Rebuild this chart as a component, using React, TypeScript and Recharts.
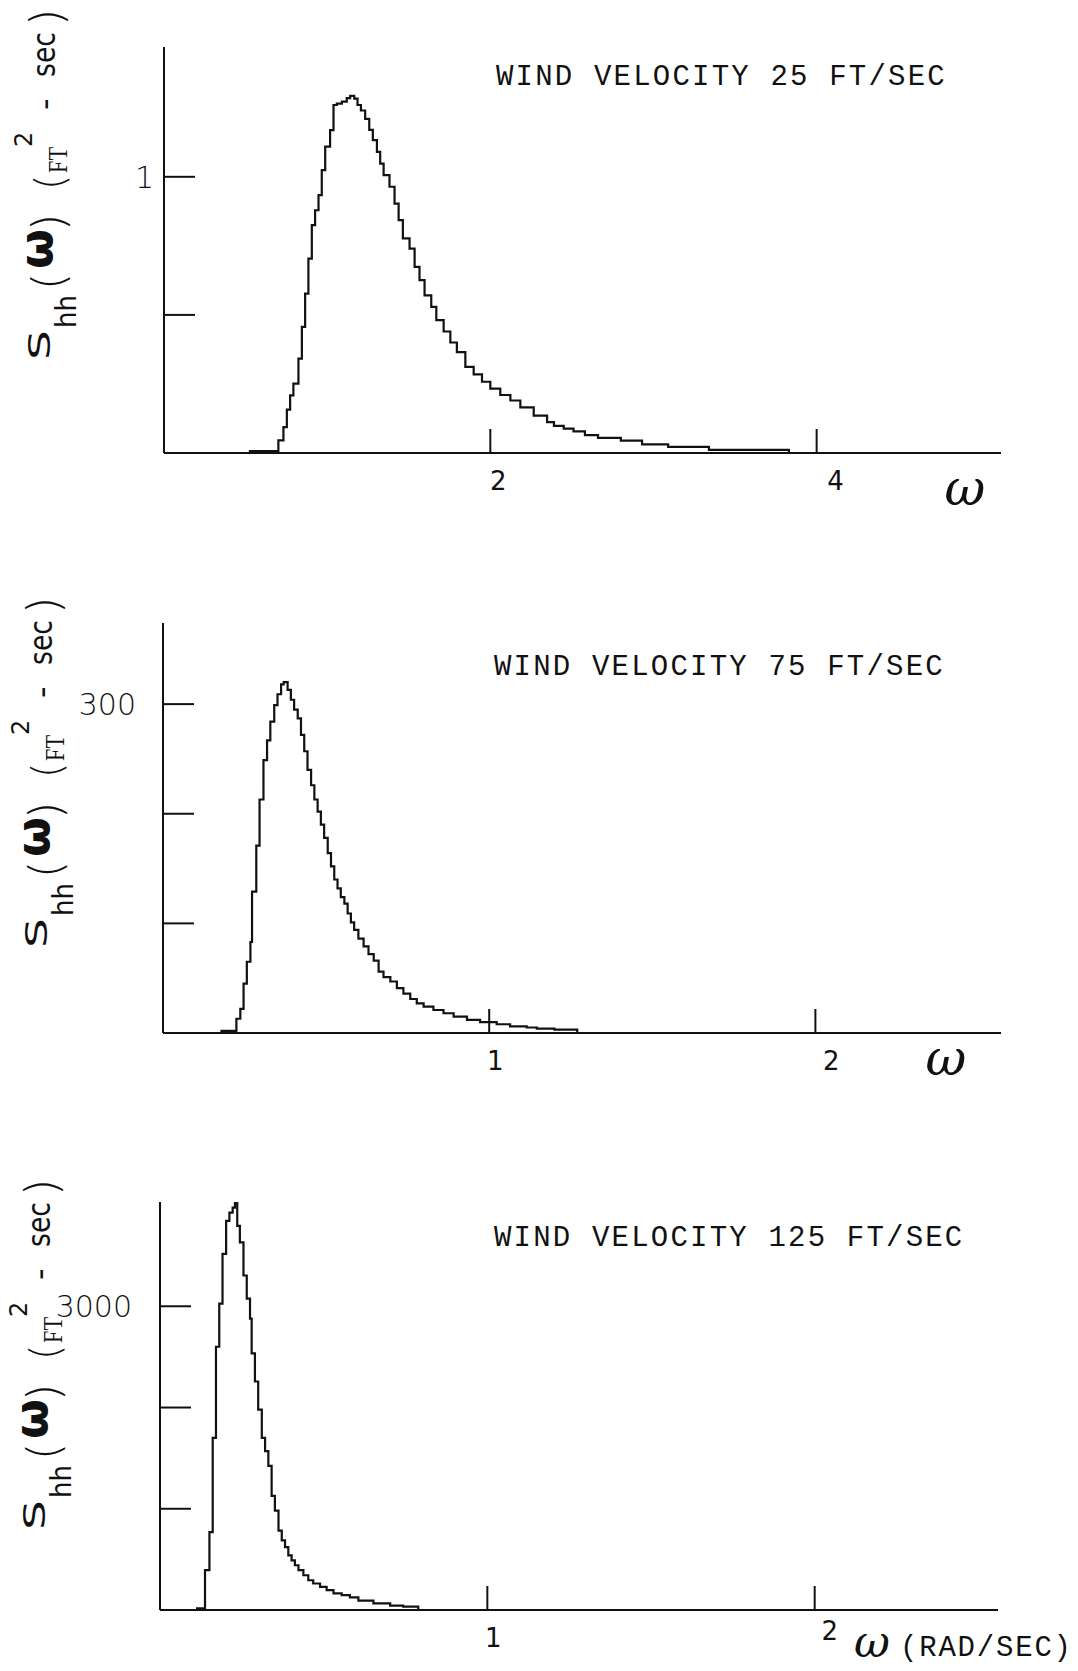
import React from "react";
import { LineChart, Line, XAxis, YAxis } from "recharts";

// step left edges (omega, rad/sec) and Shh values
const omega25 = [
  0.52, 0.701, 0.732, 0.753, 0.773, 0.793, 0.824, 0.845, 0.865, 0.885, 0.906,
  0.926, 0.947, 0.967, 0.988, 1.018, 1.039, 1.059, 1.09, 1.12, 1.141, 1.166,
  1.186, 1.207, 1.233, 1.258, 1.28, 1.305, 1.325, 1.346, 1.382, 1.413, 1.438,
  1.464, 1.505, 1.536, 1.566, 1.597, 1.638, 1.669, 1.714, 1.755, 1.795, 1.847,
  1.898, 1.949, 2.0, 2.061, 2.123, 2.184, 2.266, 2.348, 2.39, 2.45, 2.51, 2.58,
  2.66, 2.8, 2.93, 3.09, 3.34, 3.83,
];
const shh25 = [
  0.007, 0.046, 0.094, 0.157, 0.209, 0.251, 0.342, 0.457, 0.577, 0.704, 0.825,
  0.879, 0.934, 1.024, 1.109, 1.169, 1.26, 1.265, 1.272, 1.285, 1.293, 1.283,
  1.26, 1.24, 1.21, 1.17, 1.133, 1.09, 1.048, 1.006, 0.964, 0.903, 0.843,
  0.777, 0.74, 0.674, 0.626, 0.571, 0.529, 0.481, 0.44, 0.4, 0.365, 0.312,
  0.285, 0.258, 0.233, 0.21, 0.19, 0.165, 0.135, 0.112, 0.098, 0.088, 0.078,
  0.065, 0.055, 0.045, 0.031, 0.022, 0.011, 0,
];

const omega75 = [
  0.176, 0.225, 0.237, 0.247, 0.257, 0.268, 0.273, 0.286, 0.296, 0.308, 0.319,
  0.329, 0.341, 0.351, 0.362, 0.37, 0.382, 0.392, 0.402, 0.413, 0.423, 0.433,
  0.443, 0.454, 0.464, 0.474, 0.484, 0.494, 0.505, 0.515, 0.525, 0.535, 0.545,
  0.556, 0.566, 0.576, 0.586, 0.599, 0.615, 0.63, 0.646, 0.661, 0.676, 0.697,
  0.717, 0.737, 0.758, 0.778, 0.799, 0.829, 0.86, 0.891, 0.932, 0.972, 1.023,
  1.064, 1.115, 1.146, 1.2, 1.27,
];
const shh75 = [
  2, 13, 22, 45, 65, 83, 129, 171, 213, 249, 267, 284, 299, 309, 318, 320, 313,
  304, 295, 287, 272, 257, 240, 226, 213, 202, 190, 178, 164, 152, 140, 132,
  124, 118, 109, 101, 94, 86, 79, 72, 66, 56, 51, 47, 41, 36, 31, 27, 24, 21,
  18, 15, 12, 10, 8, 6, 5, 4, 3, 0,
];

const omega125 = [
  0.11, 0.1375, 0.151, 0.161, 0.171, 0.181, 0.191, 0.202, 0.212, 0.222, 0.229,
  0.236, 0.244, 0.255, 0.265, 0.275, 0.28, 0.29, 0.3, 0.311, 0.321, 0.331,
  0.341, 0.351, 0.362, 0.372, 0.382, 0.392, 0.402, 0.412, 0.423, 0.438, 0.453,
  0.468, 0.489, 0.509, 0.53, 0.555, 0.58, 0.606, 0.652, 0.703, 0.743, 0.789,
];
const shh125 = [
  16, 393, 769, 1701, 2600, 3026, 3517, 3844, 3925, 3975, 4030, 3795, 3631,
  3304, 3075, 2879, 2535, 2257, 1979, 1701, 1570, 1423, 1128, 981, 785, 687,
  622, 540, 491, 442, 393, 343, 294, 262, 229, 196, 164, 147, 124, 92, 65, 43,
  33, 0,
];

const titles = [
  "WIND VELOCITY 25 FT/SEC",
  "WIND VELOCITY 75 FT/SEC",
  "WIND VELOCITY 125 FT/SEC",
];

const xTicks25 = [2, 4];
const xTicks75 = [1, 2];
const xTicks125 = [1, 2];
const yTicks25 = [0.5, 1];
const yTicks75 = [100, 200, 300];
const yTicks125 = [1000, 2000, 3000];
const yLabelled25 = [1];
const yLabelled75 = [300];
const yLabelled125 = [3000];

const INK = "#111";
const PAGE_W = 1078;
const Y_AXIS_W = 60;
const X_AXIS_H = 40;
const MONO = "'Liberation Mono', 'DejaVu Sans Mono', monospace";
const SANS = "'DejaVu Sans', sans-serif";
const SERIF = "'DejaVu Serif', serif";

const rows = (ws: number[], ss: number[]) => ws.map((w, i) => ({ w, s: ss[i] }));

type PanelProps = {
  top: number;
  height: number;
  left: number;
  right: number;
  plotTop: number;
  plotBottom: number;
  xMax: number;
  yMax: number;
  data: { w: number; s: number }[];
  xTicks: number[];
  yTicks: number[];
  yLabelled: number[];
  yLabelGap: number;
  xLabelShift: number[][];
};

function Panel(p: PanelProps) {
  const base = p.plotBottom;
  const margin = {
    top: p.plotTop,
    left: p.left - Y_AXIS_W,
    right: PAGE_W - p.right,
    bottom: p.height - p.plotBottom - X_AXIS_H,
  };

  const xTick = (t: any) => {
    const i = p.xTicks.indexOf(t.payload.value);
    const [dx, dy] = p.xLabelShift[i] || [0, 0];
    return (
      <g>
        <line x1={t.x} x2={t.x} y1={base} y2={base - 24} stroke={INK} strokeWidth={2} />
        <text x={t.x + dx} y={base + 37 + dy} textAnchor="middle" fontFamily={SANS} fontSize={26} fill={INK}>
          {t.payload.value}
        </text>
      </g>
    );
  };

  const yTick = (t: any) => (
    <g>
      <line x1={p.left} x2={p.left + 31} y1={t.y} y2={t.y} stroke={INK} strokeWidth={2} />
      {p.yLabelled.includes(t.payload.value) && (
        <text x={p.left - p.yLabelGap} y={t.y + 11} textAnchor="end" fontFamily={SANS} fontWeight={300} fontSize={30} fill={INK}>
          {t.payload.value}
        </text>
      )}
    </g>
  );

  return (
    <div style={{ position: "absolute", left: 0, top: p.top, width: PAGE_W, height: p.height }}>
      <LineChart width={PAGE_W} height={p.height} data={p.data} margin={margin}>
        <XAxis
          type="number"
          dataKey="w"
          domain={[0, p.xMax]}
          allowDataOverflow
          ticks={p.xTicks}
          interval={0}
          height={X_AXIS_H}
          tickLine={false}
          axisLine={{ stroke: INK, strokeWidth: 2 }}
          tick={xTick}
        />
        <YAxis
          type="number"
          domain={[0, p.yMax]}
          allowDataOverflow
          ticks={p.yTicks}
          interval={0}
          width={Y_AXIS_W}
          tickLine={false}
          axisLine={{ stroke: INK, strokeWidth: 2 }}
          tick={yTick}
        />
        <Line
          type="stepAfter"
          dataKey="s"
          stroke={INK}
          strokeWidth={2.2}
          dot={false}
          isAnimationActive={false}
        />
      </LineChart>
    </div>
  );
}

// rotated y-axis title: S_hh(ω) (FT²- sec); x = baseline of the S, y = where the S starts
function YTitle({ x, y }: { x: number; y: number }) {
  return (
    <text transform={`translate(${x},${y}) rotate(-90)`} fill={INK}>
      <tspan x={0} y={0} fontFamily={SANS} fontSize={30} textLength={30} lengthAdjust="spacingAndGlyphs">S</tspan>
      <tspan x={32} y={26} fontFamily={SANS} fontSize={28} textLength={33} lengthAdjust="spacingAndGlyphs">hh</tspan>
      <tspan x={70} y={14} fontFamily={SANS} fontWeight={300} fontSize={44}>(</tspan>
      <tspan x={91} y={2} fontFamily={SANS} fontWeight="bold" fontSize={46}>ω</tspan>
      <tspan x={129} y={14} fontFamily={SANS} fontWeight={300} fontSize={44}>)</tspan>
      <tspan x={170} y={14} fontFamily={SANS} fontWeight={300} fontSize={40}>(</tspan>
      <tspan x={187} y={17} fontFamily="'Liberation Serif', serif" fontSize={27} textLength={26} lengthAdjust="spacingAndGlyphs">FT</tspan>
      <tspan x={213} y={-18} fontFamily={SANS} fontSize={24}>2</tspan>
      <tspan x={250} y={6} fontFamily={SANS} fontSize={32}>-</tspan>
      <tspan x={283} y={5} fontFamily={SANS} fontSize={32} textLength={45} lengthAdjust="spacingAndGlyphs">sec</tspan>
      <tspan x={334} y={12} fontFamily={SANS} fontWeight={300} fontSize={44}>)</tspan>
    </text>
  );
}

export default function App() {
  return (
    <div style={{ position: "relative", width: PAGE_W, height: 1671, background: "#fff", overflow: "hidden" }}>
      <style>{"body{margin:0}"}</style>
      <Panel
        top={0}
        height={520}
        left={164}
        right={1001}
        plotTop={47}
        plotBottom={453}
        xMax={5.13}
        yMax={1.47}
        data={rows(omega25, shh25)}
        xTicks={xTicks25}
        yTicks={yTicks25}
        yLabelled={yLabelled25}
        yLabelGap={10}
        xLabelShift={[[8, 0], [19, 0]]}
      />
      <Panel
        top={560}
        height={540}
        left={163}
        right={1001}
        plotTop={63}
        plotBottom={473}
        xMax={2.569}
        yMax={374}
        data={rows(omega75, shh75)}
        xTicks={xTicks75}
        yTicks={yTicks75}
        yLabelled={yLabelled75}
        yLabelGap={27}
        xLabelShift={[[6, 0], [16, 0]]}
      />
      <Panel
        top={1140}
        height={531}
        left={160}
        right={998}
        plotTop={62}
        plotBottom={470}
        xMax={2.56}
        yMax={4030}
        data={rows(omega125, shh125)}
        xTicks={xTicks125}
        yTicks={yTicks125}
        yLabelled={yLabelled125}
        yLabelGap={28}
        xLabelShift={[[6, 0], [15, -7]]}
      />
      <svg width={PAGE_W} height={1671} style={{ position: "absolute", left: 0, top: 0, pointerEvents: "none" }}>
        <text x={496} y={85} fontFamily={MONO} fontSize={29} letterSpacing={2.2} fill={INK}>{titles[0]}</text>
        <text x={494} y={675} fontFamily={MONO} fontSize={29} letterSpacing={2.2} fill={INK}>{titles[1]}</text>
        <text x={494} y={1246} fontFamily={MONO} fontSize={29} letterSpacing={2.2} fill={INK}>{titles[2]}</text>
        <YTitle x={50} y={360} />
        <YTitle x={47} y={948} />
        <YTitle x={45} y={1530} />
        <text x={965} y={505} textAnchor="middle" fontFamily={SERIF} fontStyle="italic" fontSize={50} fill={INK}>ω</text>
        <text x={946} y={1075} textAnchor="middle" fontFamily={SERIF} fontStyle="italic" fontSize={50} fill={INK}>ω</text>
        <text x={872} y={1657} textAnchor="middle" fontFamily={SERIF} fontStyle="italic" fontSize={44} fill={INK}>ω</text>
        <text x={900} y={1656} fontFamily={MONO} fontSize={29} letterSpacing={1.8} fill={INK}>(RAD/SEC)</text>
      </svg>
    </div>
  );
}
